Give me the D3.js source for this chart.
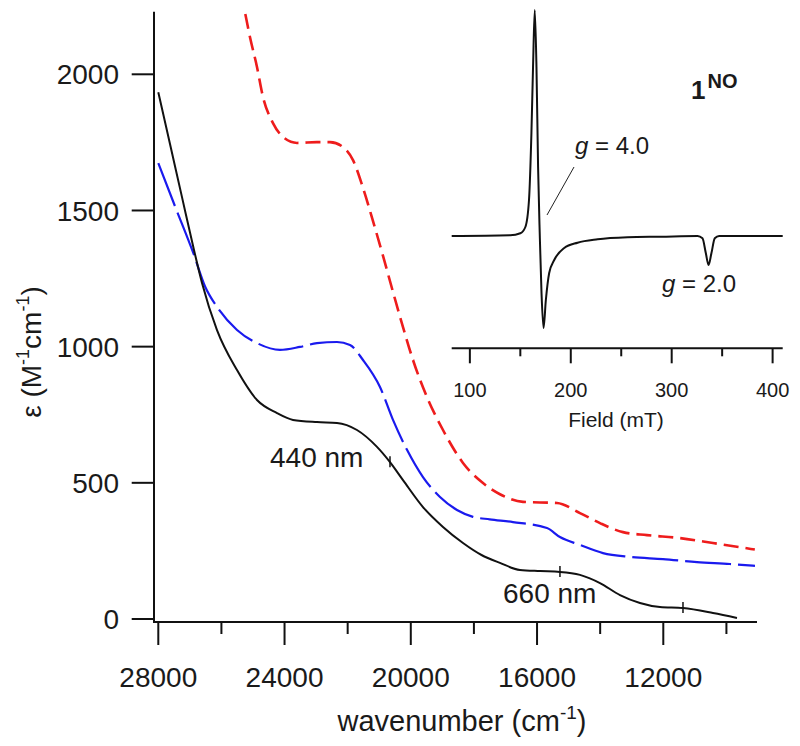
<!DOCTYPE html>
<html>
<head>
<meta charset="utf-8">
<script src="https://cdn.jsdelivr.net/npm/d3@7/dist/d3.min.js"></script>
<style>
  html, body { margin: 0; padding: 0; background: #fff; }
  svg { display: block; }
  text { font-family: "Liberation Sans", Arial, Helvetica, sans-serif; fill: #1a1a1a; }
</style>
</head>
<body>
<svg id="chart" width="800" height="746"></svg>
<script>
// ---------------- data ----------------
const xTicksMajor = [28000, 24000, 20000, 16000, 12000];
const xTicksMinor = [26000, 22000, 18000, 14000, 10000];
const yTicks = [0, 500, 1000, 1500, 2000];

const wnBlack  = [28000, 27629, 27249, 26869, 26615, 26140, 25506, 24873, 24239, 23732, 22972, 22338, 21705, 21071, 20659, 20247, 19614, 18980, 18346, 17760, 17175, 16541, 15900, 15274, 14640, 14006, 13372, 12739, 12105, 11376, 10426, 9665];
const epsBlack = [1934, 1744, 1549, 1355, 1234, 1061, 914, 804, 756, 731, 723, 720, 694, 632, 576, 510, 411, 338, 279, 235, 206, 180, 176, 173, 162, 132, 88, 59, 44, 40, 22, 4];

const wnBlue  = [28000, 27462, 26892, 26511, 26140, 25506, 24873, 24144, 23511, 22972, 22338, 21926, 21514, 20976, 20564, 20120, 19614, 19075, 18537, 18030, 17500, 16763, 15686, 15274, 14640, 13911, 13055, 12010, 10933, 9887, 9095];
const epsBlue = [1674, 1513, 1344, 1219, 1146, 1061, 1013, 988, 999, 1013, 1017, 1006, 951, 852, 731, 621, 521, 448, 400, 375, 366, 356, 334, 301, 272, 242, 228, 220, 209, 202, 195];

const wnRed  = [25400, 25250, 25096, 24873, 24683, 24366, 24049, 23606, 22972, 22560, 22148, 21831, 21514, 21197, 20880, 20564, 20247, 19930, 19487, 18980, 18346, 17712, 17175, 16446, 15369, 14640, 14006, 13278, 12517, 11471, 10426, 9100];
const epsRed = [2300, 2225, 2137, 2027, 1917, 1821, 1770, 1748, 1751, 1751, 1733, 1685, 1583, 1461, 1333, 1201, 1072, 951, 815, 694, 573, 499, 458, 430, 426, 389, 352, 319, 308, 297, 279, 255];

// small glitch marks on the black trace (wavenumber, epsilon)
const glitchWn  = [20659, 15274, 11376];
const glitchEps = [576, 173, 40];

// inset EPR spectrum
const eprTicksMajor = [100, 200, 300, 400];
const eprTicksMinor = [150, 250, 350];
const eprField  = [82, 140, 150, 155, 158.6, 161, 162.6, 164.3, 166, 167.6, 169.3, 171, 173, 175.3, 178.6, 183.6, 193.5, 206.7, 226.6, 256.3, 289.3, 325.6, 330.5, 333.8, 336.5, 339.4, 342.7, 347, 410];
const eprSignal = [0, 0.7, 2.7, 9, 36, 103, 169, 226, 169, 69, 0, -57, -92, -64, -37, -24, -12, -6.7, -3.3, -1.3, -0.7, 0, -2.3, -17, -29, -17, -2.3, 0, 0];

// ---------------- drawing ----------------
const svg = d3.select("#chart");
const FONT = 28;

const x = d3.scaleLinear().domain([28136, 9031]).range([154, 757]);
const y = d3.scaleLinear().domain([0, 2000]).range([619, 74.3]);
const axisY = 622;   // x-axis line position
const yTop = 11.7;

svg.append("defs").append("clipPath").attr("id", "plotclip")
  .append("rect").attr("x", 154).attr("y", yTop).attr("width", 620).attr("height", axisY - yTop);

// axes lines
svg.append("line").attr("x1", 154).attr("x2", 154).attr("y1", yTop).attr("y2", axisY + 1)
  .attr("stroke", "#111").attr("stroke-width", 2);
svg.append("line").attr("x1", 153).attr("x2", 757).attr("y1", axisY).attr("y2", axisY)
  .attr("stroke", "#111").attr("stroke-width", 2);

// y ticks
yTicks.forEach(v => {
  svg.append("line").attr("x1", 131.7).attr("x2", 154).attr("y1", y(v)).attr("y2", y(v))
    .attr("stroke", "#111").attr("stroke-width", 2);
  svg.append("text").attr("x", 119).attr("y", y(v)).attr("dy", "0.36em")
    .attr("text-anchor", "end").attr("font-size", FONT).text(v);
});

// x ticks
xTicksMajor.forEach(v => {
  svg.append("line").attr("x1", x(v)).attr("x2", x(v)).attr("y1", axisY).attr("y2", axisY + 23)
    .attr("stroke", "#111").attr("stroke-width", 2);
  svg.append("text").attr("x", x(v)).attr("y", 687)
    .attr("text-anchor", "middle").attr("font-size", FONT).text(v);
});
xTicksMinor.forEach(v => {
  svg.append("line").attr("x1", x(v)).attr("x2", x(v)).attr("y1", axisY).attr("y2", axisY + 12)
    .attr("stroke", "#111").attr("stroke-width", 2);
});

// axis titles
const xt = svg.append("text").attr("x", 462).attr("y", 731).attr("text-anchor", "middle").attr("font-size", 29);
xt.append("tspan").text("wavenumber (cm");
xt.append("tspan").attr("font-size", 19).attr("dy", -12).text("-1");
xt.append("tspan").attr("dy", 12).text(")");

const yt = svg.append("text").attr("transform", "translate(41,352) rotate(-90)")
  .attr("text-anchor", "middle").attr("font-size", FONT);
yt.append("tspan").text("\u03B5 (M");
yt.append("tspan").attr("font-size", 18).attr("dy", -12).text("-1");
yt.append("tspan").attr("dy", 12).text("cm");
yt.append("tspan").attr("font-size", 18).attr("dy", -12).text("-1");
yt.append("tspan").attr("dy", 12).text(")");

// curves
const line = d3.line().x(d => x(d[0])).y(d => y(d[1])).curve(d3.curveMonotoneX);
const g = svg.append("g").attr("clip-path", "url(#plotclip)");
g.append("path").datum(d3.zip(wnRed, epsRed)).attr("d", line)
  .attr("fill", "none").attr("stroke", "#ee1c1c").attr("stroke-width", 2.6).attr("stroke-dasharray", "15,7");
g.append("path").datum(d3.zip(wnBlue, epsBlue)).attr("d", line)
  .attr("fill", "none").attr("stroke", "#1a1aee").attr("stroke-width", 2.2).attr("stroke-dasharray", "46,7");
g.append("path").datum(d3.zip(wnBlack, epsBlack)).attr("d", line)
  .attr("fill", "none").attr("stroke", "#111").attr("stroke-width", 2);

glitchWn.forEach((w, i) => {
  g.append("line").attr("x1", x(w)).attr("x2", x(w))
    .attr("y1", y(glitchEps[i]) - 6).attr("y2", y(glitchEps[i]) + 5)
    .attr("stroke", "#111").attr("stroke-width", 1.5);
});

// annotations
svg.append("text").attr("x", 270).attr("y", 467).attr("font-size", FONT).text("440 nm");
svg.append("text").attr("x", 503).attr("y", 603).attr("font-size", FONT).text("660 nm");

// ---------------- inset ----------------
const ex = d3.scaleLinear().domain([82, 410]).range([451.7, 782.7]);
const ey = d3.scaleLinear().domain([-92, 226]).range([328, 10]);
const eAxisY = 348.3;

svg.append("line").attr("x1", 451.7).attr("x2", 782.7).attr("y1", eAxisY).attr("y2", eAxisY)
  .attr("stroke", "#111").attr("stroke-width", 2);
eprTicksMajor.forEach(v => {
  svg.append("line").attr("x1", ex(v)).attr("x2", ex(v)).attr("y1", eAxisY).attr("y2", eAxisY + 15)
    .attr("stroke", "#111").attr("stroke-width", 2);
  svg.append("text").attr("x", ex(v)).attr("y", 397).attr("text-anchor", "middle")
    .attr("font-size", 20).text(v);
});
eprTicksMinor.forEach(v => {
  svg.append("line").attr("x1", ex(v)).attr("x2", ex(v)).attr("y1", eAxisY).attr("y2", eAxisY + 8)
    .attr("stroke", "#111").attr("stroke-width", 2);
});
svg.append("text").attr("x", 616).attr("y", 427).attr("text-anchor", "middle")
  .attr("font-size", 21).text("Field (mT)");

const eline = d3.line().x(d => ex(d[0])).y(d => ey(d[1])).curve(d3.curveMonotoneX);
svg.append("path").datum(d3.zip(eprField, eprSignal)).attr("d", eline)
  .attr("fill", "none").attr("stroke", "#111").attr("stroke-width", 2);

// g labels
const g4 = svg.append("text").attr("x", 575).attr("y", 154).attr("font-size", 24);
g4.append("tspan").attr("font-style", "italic").text("g");
g4.append("tspan").text(" = 4.0");
const g2 = svg.append("text").attr("x", 662).attr("y", 292).attr("font-size", 24);
g2.append("tspan").attr("font-style", "italic").text("g");
g2.append("tspan").text(" = 2.0");
svg.append("line").attr("x1", 574).attr("y1", 167).attr("x2", 547).attr("y2", 215)
  .attr("stroke", "#222").attr("stroke-width", 1);

// compound label
const cl = svg.append("text").attr("x", 691).attr("y", 99).attr("font-weight", "bold").attr("font-size", 26);
cl.append("tspan").text("1");
cl.append("tspan").attr("font-size", 20).attr("dy", -11).attr("dx", 2).text("NO");
</script>
</body>
</html>
